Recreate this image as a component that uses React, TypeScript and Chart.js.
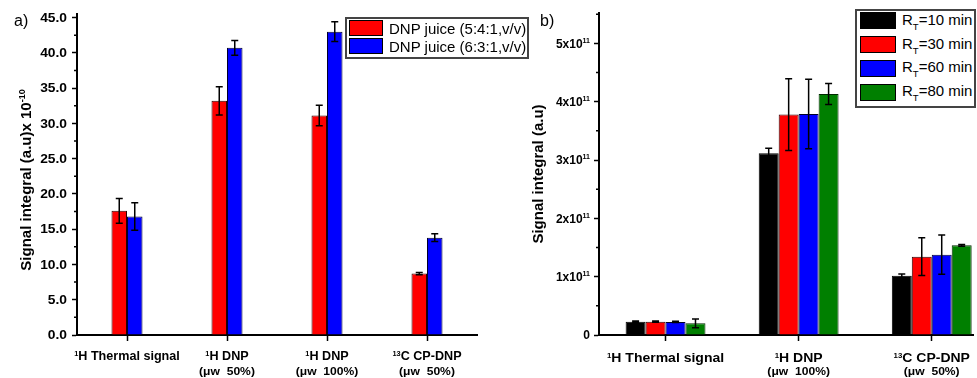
import React, { useEffect, useRef } from 'react';
import { Chart, registerables } from 'chart.js';

Chart.register(...registerables);

const FONT = '"Liberation Sans", Arial, Helvetica, sans-serif';

// ---------- Panel a data ----------
const catsASup = ['1', '1', '1', '13'];
const catsAMain = ['H Thermal signal', 'H DNP', 'H DNP', 'C CP-DNP'];
const catsANote = ['', '(\u03bcw  50%)', '(\u03bcw  100%)', '(\u03bcw  50%)'];
const juice541 = [17.6, 33.2, 31.1, 8.7];
const juice541Err = [1.75, 2.0, 1.45, 0.15];
const juice631 = [16.8, 40.7, 43.0, 13.8];
const juice631Err = [1.95, 1.05, 1.4, 0.55];
const yTicksA = [0, 5, 10, 15, 20, 25, 30, 35, 40, 45];
const yMinorA = [2.5, 7.5, 12.5, 17.5, 22.5, 27.5, 32.5, 37.5, 42.5];

// ---------- Panel b data ----------
const catsBSup = ['1', '1', '13'];
const catsBMain = ['H Thermal signal', 'H DNP', 'C CP-DNP'];
const catsBNote = ['', '(\u03bcw  100%)', '(\u03bcw  50%)'];
const rt10 = [0.228e11, 3.115e11, 1.017e11];
const rt10Err = [0.01e11, 0.085e11, 0.03e11];
const rt30 = [0.228e11, 3.78e11, 1.343e11];
const rt30Err = [0.01e11, 0.615e11, 0.325e11];
const rt60 = [0.225e11, 3.79e11, 1.377e11];
const rt60Err = [0.01e11, 0.595e11, 0.337e11];
const rt80 = [0.2e11, 4.13e11, 1.537e11];
const rt80Err = [0.075e11, 0.18e11, 0.015e11];
const yTicksB = [0, 1e11, 2e11, 3e11, 4e11, 5e11];
const yMinorB = [0.5e11, 1.5e11, 2.5e11, 3.5e11, 4.5e11, 5.5e11];

type Seg = { t: string; size: number; dy?: number; weight?: string };

function drawSegs(ctx: any, segs: Seg[], x: number, y: number, align: string, sx = 1) {
  ctx.save();
  ctx.textAlign = 'left';
  ctx.textBaseline = 'alphabetic';
  ctx.fillStyle = '#000';
  const widths: number[] = [];
  let total = 0;
  for (const s of segs) {
    ctx.font = `${s.weight || 'bold'} ${s.size}px ${FONT}`;
    const w = ctx.measureText(s.t).width;
    widths.push(w);
    total += w;
  }
  const tw = total * sx;
  const start = align === 'center' ? x - tw / 2 : align === 'right' ? x - tw : x;
  ctx.translate(start, y);
  ctx.scale(sx, 1);
  let cx = 0;
  segs.forEach((s, i) => {
    ctx.font = `${s.weight || 'bold'} ${s.size}px ${FONT}`;
    ctx.fillText(s.t, cx, s.dy || 0);
    cx += widths[i];
  });
  ctx.restore();
}

const errorBars = {
  id: 'errorBars',
  afterDatasetsDraw(chart: any) {
    const ctx = chart.ctx;
    const ys = chart.scales.y;
    chart.data.datasets.forEach((ds: any, di: number) => {
      const meta = chart.getDatasetMeta(di);
      meta.data.forEach((bar: any, i: number) => {
        const raw = ds.data[i];
        const v = typeof raw === 'number' ? raw : raw.y;
        const e = ds.errors[i];
        const top = ys.getPixelForValue(v + e);
        const bot = ys.getPixelForValue(v - e);
        const half = 3.5;
        ctx.save();
        ctx.strokeStyle = '#000';
        ctx.lineWidth = 1.5;
        ctx.beginPath();
        ctx.moveTo(bar.x, top);
        ctx.lineTo(bar.x, bot);
        ctx.moveTo(bar.x - half, top);
        ctx.lineTo(bar.x + half, top);
        ctx.moveTo(bar.x - half, bot);
        ctx.lineTo(bar.x + half, bot);
        ctx.stroke();
        ctx.restore();
      });
    });
  },
};

function minorTicks(ctx: any, ys: any, left: number, values: number[]) {
  ctx.save();
  ctx.strokeStyle = '#000';
  ctx.lineWidth = 1.5;
  ctx.beginPath();
  for (const v of values) {
    const py = ys.getPixelForValue(v);
    ctx.moveTo(left - 3, py);
    ctx.lineTo(left, py);
  }
  ctx.stroke();
  ctx.restore();
}

const labelsA = {
  id: 'labelsA',
  afterDraw(chart: any) {
    const ctx = chart.ctx;
    const xs = chart.scales.x;
    const ys = chart.scales.y;
    const left = chart.chartArea.left;
    minorTicks(ctx, ys, left, yMinorA);
    for (const v of yTicksA) {
      const py = ys.getPixelForValue(v);
      drawSegs(ctx, [{ t: v.toFixed(1), size: 12 }], left - 10, py + 4.2, 'right', 1.15);
    }
    catsAMain.forEach((m, i) => {
      const px = xs.getPixelForValue(i);
      drawSegs(ctx, [{ t: catsASup[i], size: 7, dy: -4.5 }, { t: m, size: 12 }], px, 360, 'center', 1.05);
      if (catsANote[i]) drawSegs(ctx, [{ t: catsANote[i], size: 11 }], px, 375, 'center', 1.1);
    });
    ctx.save();
    ctx.translate(26, 180);
    ctx.rotate(-Math.PI / 2);
    drawSegs(ctx, [{ t: 'Signal integral (a.u)x 10', size: 15 }, { t: '-10', size: 9, dy: -6 }], 0, 5, 'center');
    ctx.restore();
  },
};

const labelsB = {
  id: 'labelsB',
  afterDraw(chart: any) {
    const ctx = chart.ctx;
    const xs = chart.scales.x;
    const ys = chart.scales.y;
    const left = chart.chartArea.left;
    minorTicks(ctx, ys, left, yMinorB);
    for (const v of yTicksB) {
      const py = ys.getPixelForValue(v);
      const m = Math.round(v / 1e11);
      const segs: Seg[] = m === 0 ? [{ t: '0', size: 12 }] : [{ t: `${m}x10`, size: 12 }, { t: '11', size: 7, dy: -5 }];
      drawSegs(ctx, segs, left - 9, py + 4.3, 'right');
    }
    catsBMain.forEach((m, i) => {
      const px = xs.getPixelForValue(i + 1);
      drawSegs(ctx, [{ t: catsBSup[i], size: 7, dy: -4.5 }, { t: m, size: 12.5 }], px, 362, 'center', 1.12);
      if (catsBNote[i]) drawSegs(ctx, [{ t: catsBNote[i], size: 11 }], px, 375, 'center', 1.1);
    });
    ctx.save();
    ctx.translate(48, 174);
    ctx.rotate(-Math.PI / 2);
    drawSegs(ctx, [{ t: 'Signal integral (a.u)', size: 15 }], 0, 5, 'center');
    ctx.restore();
  },
};

const axisGrid = (len: number) => ({
  display: true,
  offset: false,
  drawOnChartArea: false,
  drawTicks: true,
  tickLength: len,
  tickWidth: 1.5,
  tickColor: '#000',
  color: '#000',
});
const axisBorder = { display: true, width: 2, color: '#000' };

export default function App() {
  const refA = useRef<HTMLCanvasElement>(null);
  const refB = useRef<HTMLCanvasElement>(null);

  useEffect(() => {
    const chartA = new Chart(refA.current as HTMLCanvasElement, {
      type: 'bar',
      data: {
        labels: catsAMain,
        datasets: [
          { label: 'DNP juice (5:4:1,v/v)', data: juice541, errors: juice541Err, backgroundColor: '#FF0000', borderColor: '#2a0000', borderWidth: 1 } as any,
          { label: 'DNP juice (6:3:1,v/v)', data: juice631, errors: juice631Err, backgroundColor: '#0000FF', borderColor: '#00002a', borderWidth: 1 } as any,
        ],
      },
      options: {
        responsive: false,
        animation: false,
        devicePixelRatio: 1,
        layout: { padding: { left: 0, top: 14, right: 13, bottom: 0 } },
        datasets: { bar: { categoryPercentage: 0.31, barPercentage: 1, borderSkipped: 'bottom' } } as any,
        plugins: { legend: { display: false }, tooltip: { enabled: false } },
        scales: {
          x: {
            type: 'category',
            offset: true,
            z: 1,
            grid: axisGrid(6),
            border: axisBorder,
            ticks: { display: false },
            afterFit: (s: any) => { s.height = 43; },
          },
          y: {
            min: 0,
            max: 45.5,
            z: 1,
            grid: axisGrid(5),
            border: axisBorder,
            ticks: { display: false },
            afterBuildTicks: (s: any) => { s.ticks = yTicksA.map((v) => ({ value: v })); },
            afterFit: (s: any) => { s.width = 77; },
          },
        } as any,
      },
      plugins: [errorBars, labelsA],
    } as any);

    const mk = (d: number[]) => d.map((v, i) => ({ x: i + 1, y: v }));
    const chartB = new Chart(refB.current as HTMLCanvasElement, {
      type: 'bar',
      data: {
        datasets: [
          { label: 'RT=10 min', data: mk(rt10), errors: rt10Err, backgroundColor: '#000000', borderColor: '#000000', borderWidth: 1 } as any,
          { label: 'RT=30 min', data: mk(rt30), errors: rt30Err, backgroundColor: '#FF0000', borderColor: '#2a0000', borderWidth: 1 } as any,
          { label: 'RT=60 min', data: mk(rt60), errors: rt60Err, backgroundColor: '#0000FF', borderColor: '#00002a', borderWidth: 1 } as any,
          { label: 'RT=80 min', data: mk(rt80), errors: rt80Err, backgroundColor: '#007F00', borderColor: '#002a00', borderWidth: 1 } as any,
        ],
      },
      options: {
        responsive: false,
        animation: false,
        devicePixelRatio: 1,
        layout: { padding: { left: 0, top: 13, right: 4, bottom: 0 } },
        datasets: { bar: { categoryPercentage: 0.6, barPercentage: 1, borderSkipped: 'bottom' } } as any,
        plugins: { legend: { display: false }, tooltip: { enabled: false } },
        scales: {
          x: {
            type: 'linear',
            min: 0.5,
            max: 3.31,
            offset: false,
            z: 1,
            grid: axisGrid(6),
            border: axisBorder,
            ticks: { display: false },
            afterBuildTicks: (s: any) => { s.ticks = catsBMain.map((_, i) => ({ value: i + 1 })); },
            afterFit: (s: any) => { s.height = 43; },
          },
          y: {
            min: 0,
            max: 5.52e11,
            z: 1,
            grid: axisGrid(5),
            border: axisBorder,
            ticks: { display: false },
            afterBuildTicks: (s: any) => { s.ticks = yTicksB.map((v) => ({ value: v })); },
            afterFit: (s: any) => { s.width = 109; },
          },
        } as any,
      },
      plugins: [errorBars, labelsB],
    } as any);

    return () => {
      chartA.destroy();
      chartB.destroy();
    };
  }, []);

  const txt: React.CSSProperties = { position: 'absolute', fontFamily: FONT, fontSize: 15, lineHeight: '16px', whiteSpace: 'nowrap', color: '#000' };
  const sw = (left: number, top: number, w: number, h: number, bg: string): React.CSSProperties => ({
    position: 'absolute', left, top, width: w, height: h, background: bg, border: '1px solid #000', boxSizing: 'border-box',
  });
  const sub: React.CSSProperties = { fontSize: 9.5, position: 'relative', top: 5, lineHeight: 0 };
  const legendB = [
    { c: '#000000', t: '=10 min' },
    { c: '#FF0000', t: '=30 min' },
    { c: '#0000FF', t: '=60 min' },
    { c: '#007F00', t: '=80 min' },
  ];
  const rowTopsB = [12, 36, 60, 84];
  const textTopsB = [12, 36, 59, 83];

  return (
    <div style={{ position: 'absolute', left: 0, top: 0, width: 977, height: 378, background: '#fff', overflow: 'hidden' }}>
      <canvas ref={refB} width={487} height={378} style={{ position: 'absolute', left: 490, top: 0, width: 487, height: 378 }} />
      <canvas ref={refA} width={490} height={378} style={{ position: 'absolute', left: 0, top: 0, width: 490, height: 378 }} />
      <div style={{ ...txt, fontSize: 16, lineHeight: '18px', left: 14, top: 12 }}>a)</div>
      <div style={{ ...txt, fontSize: 16, lineHeight: '18px', left: 540, top: 12 }}>b)</div>

      <div style={{ position: 'absolute', left: 345, top: 17, width: 184, height: 42, border: '2px solid #444', boxSizing: 'border-box', background: '#fff' }} />
      <div style={sw(349, 20, 34, 16, '#FF0000')} />
      <div style={sw(349, 38, 34, 16, '#0000FF')} />
      <div style={{ ...txt, left: 389, top: 21 }}>DNP juice (5:4:1,v/v)</div>
      <div style={{ ...txt, left: 389, top: 39 }}>DNP juice (6:3:1,v/v)</div>

      <div style={{ position: 'absolute', left: 855, top: 9, width: 121, height: 99, border: '2px solid #444', boxSizing: 'border-box', background: '#fff' }} />
      {legendB.map((r, i) => (
        <React.Fragment key={i}>
          <div style={sw(860, rowTopsB[i], 36, 17, r.c)} />
          <div style={{ ...txt, left: 902, top: textTopsB[i] }}>
            R<span style={sub}>T</span>{r.t}
          </div>
        </React.Fragment>
      ))}
    </div>
  );
}
